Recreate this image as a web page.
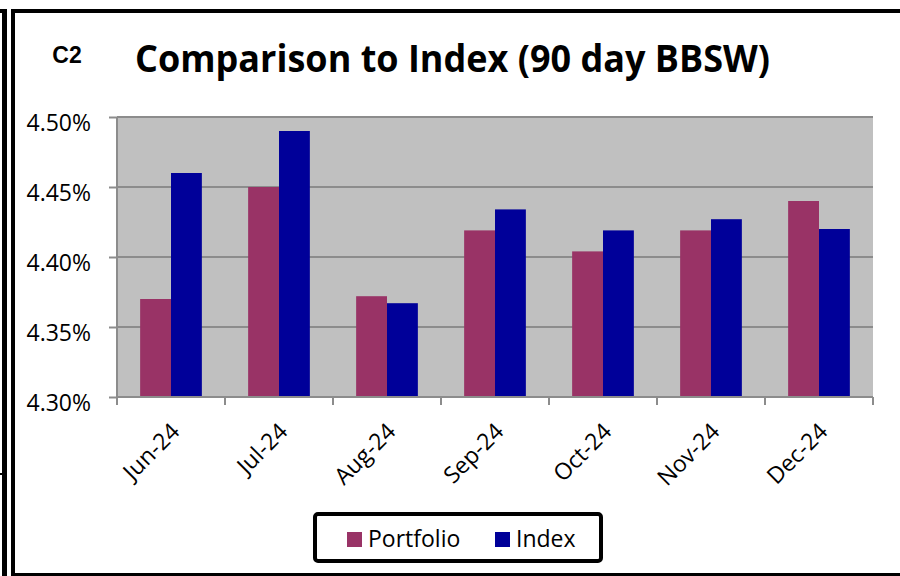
<!DOCTYPE html>
<html>
  <head>
    <meta charset="utf-8" />
    <script src="https://d3js.org/d3.v7.min.js"></script>
    <title>Comparison to Index (90 day BBSW)</title>
    <style>
      body {
        margin: 0px;
        background: #ffffff;
        font-family: 'Open Sans', sans-serif;
      }
      .domain {
        display: none;
      }
      .tick line {
        stroke: #8c8c8c;
        stroke-width: 2;
      }
      .tick text {
        fill: #000000;
        font-size: 23px;
        font-family: 'Open Sans', sans-serif;
      }
    </style>
  </head>
  <body>
    <script>
      const months = ['Jun-24', 'Jul-24', 'Aug-24', 'Sep-24', 'Oct-24', 'Nov-24', 'Dec-24'];
      const portfolio = [4.37, 4.45, 4.372, 4.419, 4.404, 4.419, 4.44];
      const index = [4.46, 4.49, 4.367, 4.434, 4.419, 4.427, 4.42];
      const seriesNames = ['Portfolio', 'Index'];
      const seriesColors = ['#993366', '#000099'];
      const yTicks = [4.3, 4.35, 4.4, 4.45, 4.5];

      const width = 900;
      const height = 576;
      const plot = { left: 117, right: 873, top: 117, bottom: 397 };

      const svg = d3
        .select('body')
        .append('svg')
        .attr('width', width)
        .attr('height', height);

      // frame lines around the chart
      const frame = svg.append('g').attr('fill', '#000');
      frame.append('rect').attr('x', 2).attr('y', 9).attr('width', 5).attr('height', 567);
      frame.append('rect').attr('x', 0).attr('y', 9).attr('width', 7).attr('height', 4);
      frame.append('rect').attr('x', 0).attr('y', 473).attr('width', 3).attr('height', 2);
      frame.append('rect').attr('x', 11).attr('y', 9).attr('width', 4).attr('height', 567);
      frame.append('rect').attr('x', 11).attr('y', 9).attr('width', 889).attr('height', 4);
      frame.append('rect').attr('x', 11).attr('y', 573).attr('width', 889).attr('height', 3);

      // titles
      svg
        .append('text')
        .attr('x', 67)
        .attr('y', 63)
        .attr('text-anchor', 'middle')
        .style('font-family', "'Liberation Sans', Arial, sans-serif")
        .style('font-weight', 'bold')
        .style('font-size', '23px')
        .text('C2');

      svg
        .append('text')
        .attr('x', 135)
        .attr('y', 72)
        .attr('textLength', 635)
        .attr('lengthAdjust', 'spacingAndGlyphs')
        .style('font-weight', 'bold')
        .style('font-size', '37px')
        .text('Comparison to Index (90 day BBSW)');

      const x0 = d3
        .scaleBand()
        .domain(months)
        .range([plot.left, plot.right])
        .padding(0);

      const step = x0.step();
      const barW = step / 3.5;
      const x1 = d3
        .scaleBand()
        .domain(seriesNames)
        .range([barW * 0.75, step - barW * 0.75])
        .padding(0);

      const y = d3
        .scaleLinear()
        .domain([4.3, 4.5])
        .range([plot.bottom, plot.top]);

      // plot background
      svg
        .append('rect')
        .attr('x', plot.left)
        .attr('y', plot.top)
        .attr('width', plot.right - plot.left)
        .attr('height', plot.bottom - plot.top)
        .attr('fill', '#c0c0c0');

      // grid lines
      svg
        .append('g')
        .selectAll('line')
        .data(yTicks)
        .join('line')
        .attr('x1', plot.left)
        .attr('x2', plot.right)
        .attr('y1', (d) => y(d))
        .attr('y2', (d) => y(d))
        .attr('stroke', '#8c8c8c')
        .attr('stroke-width', 2);

      // bars
      const rows = months.map((m, i) => ({
        month: m,
        values: [portfolio[i], index[i]],
      }));

      svg
        .append('g')
        .selectAll('g')
        .data(rows)
        .join('g')
        .attr('transform', (d) => `translate(${x0(d.month)},0)`)
        .selectAll('rect')
        .data((d) => d.values.map((v, j) => ({ name: seriesNames[j], value: v, color: seriesColors[j] })))
        .join('rect')
        .attr('x', (d) => x1(d.name))
        .attr('width', x1.bandwidth())
        .attr('y', (d) => y(d.value))
        .attr('height', (d) => y(4.3) - y(d.value))
        .attr('fill', (d) => d.color);

      // y axis
      const yAxisG = svg
        .append('g')
        .attr('transform', `translate(${plot.left},0)`)
        .call(
          d3
            .axisLeft(y)
            .tickValues(yTicks)
            .tickSize(8)
            .tickPadding(18)
            .tickFormat((d) => d.toFixed(2) + '%')
        );
      yAxisG.selectAll('.tick text').attr('dy', '0.6em').attr('y', 0);
      yAxisG
        .append('line')
        .attr('x1', 0)
        .attr('x2', 0)
        .attr('y1', plot.top)
        .attr('y2', plot.bottom + 1)
        .attr('stroke', '#8c8c8c')
        .attr('stroke-width', 2);

      // x axis: tick marks at category boundaries
      const bounds = months.map((m) => x0(m)).concat([plot.right]);
      const xAxisG = svg.append('g');
      xAxisG
        .append('line')
        .attr('x1', plot.left)
        .attr('x2', plot.right)
        .attr('y1', plot.bottom)
        .attr('y2', plot.bottom)
        .attr('stroke', '#8c8c8c')
        .attr('stroke-width', 2);
      xAxisG
        .selectAll('.xtick')
        .data(bounds)
        .join('line')
        .attr('class', 'xtick')
        .attr('x1', (d) => d)
        .attr('x2', (d) => d)
        .attr('y1', plot.bottom)
        .attr('y2', plot.bottom + 8)
        .attr('stroke', '#8c8c8c')
        .attr('stroke-width', 2);
      xAxisG
        .selectAll('.xlabel')
        .data(months)
        .join('text')
        .attr('class', 'xlabel')
        .attr(
          'transform',
          (d) => `translate(${x0(d) + step / 2 + 10},${plot.bottom + 36}) rotate(-45)`
        )
        .attr('text-anchor', 'end')
        .style('font-size', '23px')
        .text((d) => d);

      // legend
      const legend = svg.append('g');
      legend
        .append('rect')
        .attr('x', 315)
        .attr('y', 514)
        .attr('width', 286)
        .attr('height', 47)
        .attr('rx', 3)
        .attr('fill', '#fff')
        .attr('stroke', '#000')
        .attr('stroke-width', 4);
      const legendX = [347, 495];
      const items = legend
        .selectAll('.item')
        .data(seriesNames)
        .join('g')
        .attr('class', 'item')
        .attr('transform', (d, i) => `translate(${legendX[i]},532)`);
      items
        .append('rect')
        .attr('width', 15)
        .attr('height', 15)
        .attr('fill', (d, i) => seriesColors[i]);
      items
        .append('text')
        .attr('x', 21)
        .attr('y', 15)
        .style('font-size', '23px')
        .text((d) => d);
    </script>
  </body>
</html>
